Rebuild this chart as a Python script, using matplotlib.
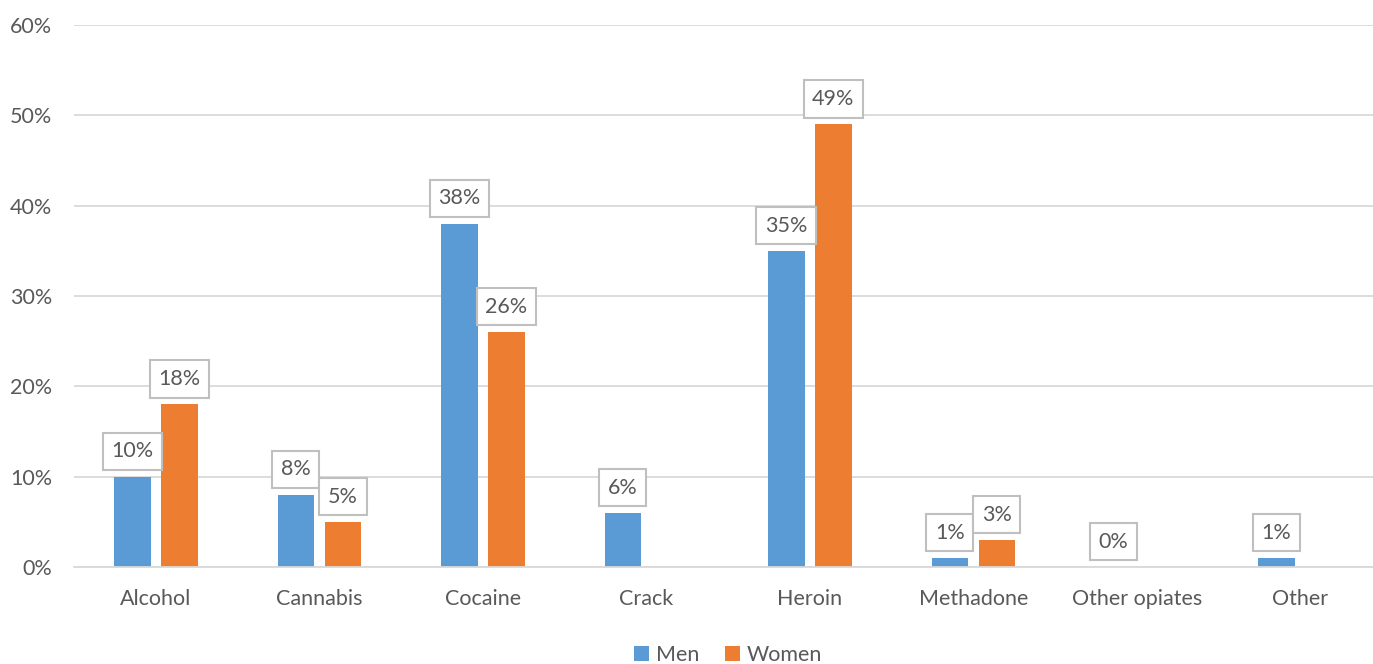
import numpy as np
import matplotlib.pyplot as plt

categories = ["Alcohol", "Cannabis", "Cocaine", "Crack", "Heroin",
              "Methadone", "Other opiates", "Other"]
men = [10, 8, 38, 6, 35, 1, 0, 1]
women = [18, 5, 26, None, 49, 3, None, None]
yticks = [0, 10, 20, 30, 40, 50, 60]

blue = "#5B9BD5"
orange = "#ED7D31"
text_grey = "#595959"
grid_grey = "#D9D9D9"

plt.rcParams["font.family"] = ["Lato", "DejaVu Sans"]

fig = plt.figure(figsize=(13.73, 6.64), dpi=100)
ax = fig.add_axes([0.0541, 0.1461, 0.9524, 0.8163])

x = np.arange(len(categories))
width = 0.223
offset = 0.144
fs = 15.5


def label(ax, xpos, val):
    ax.annotate(f"{val}%", xy=(xpos, val), xytext=(0, 11),
                textcoords="offset points", ha="center", va="bottom",
                fontsize=fs, color=text_grey,
                bbox=dict(boxstyle="square,pad=0.4", fc="white",
                          ec="#BFBFBF", lw=1.5))


for i, v in enumerate(men):
    ax.bar(x[i] - offset, v, width, color=blue, zorder=2,
           label="Men" if i == 0 else None)
    label(ax, x[i] - offset, v)

for i, v in enumerate(women):
    if v is None:
        continue
    ax.bar(x[i] + offset, v, width, color=orange, zorder=2,
           label="Women" if i == 0 else None)
    label(ax, x[i] + offset, v)

ax.set_xlim(-0.5, len(categories) - 0.5)
ax.set_ylim(0, 60)
ax.set_yticks(yticks)
ax.set_yticklabels([f"{t}%" for t in yticks])
ax.set_xticks(x)
ax.set_xticklabels(categories)
ax.tick_params(axis="both", length=0, labelsize=fs, colors=text_grey)
ax.tick_params(axis="y", pad=16)
ax.tick_params(axis="x", pad=16)

ax.grid(axis="y", color=grid_grey, lw=1.3, zorder=0)
ax.set_axisbelow(True)
for side in ["top", "right", "left"]:
    ax.spines[side].set_visible(False)
ax.spines["bottom"].set_color(grid_grey)
ax.spines["bottom"].set_linewidth(1.3)

leg = ax.legend(loc="center", bbox_to_anchor=(0.5, -0.163), ncol=2,
                frameon=False, fontsize=fs, handlelength=0.7,
                handleheight=0.7, handletextpad=0.3, columnspacing=1.2,
                borderpad=0)
for t in leg.get_texts():
    t.set_color(text_grey)

fig.savefig("out.png", dpi=100)
